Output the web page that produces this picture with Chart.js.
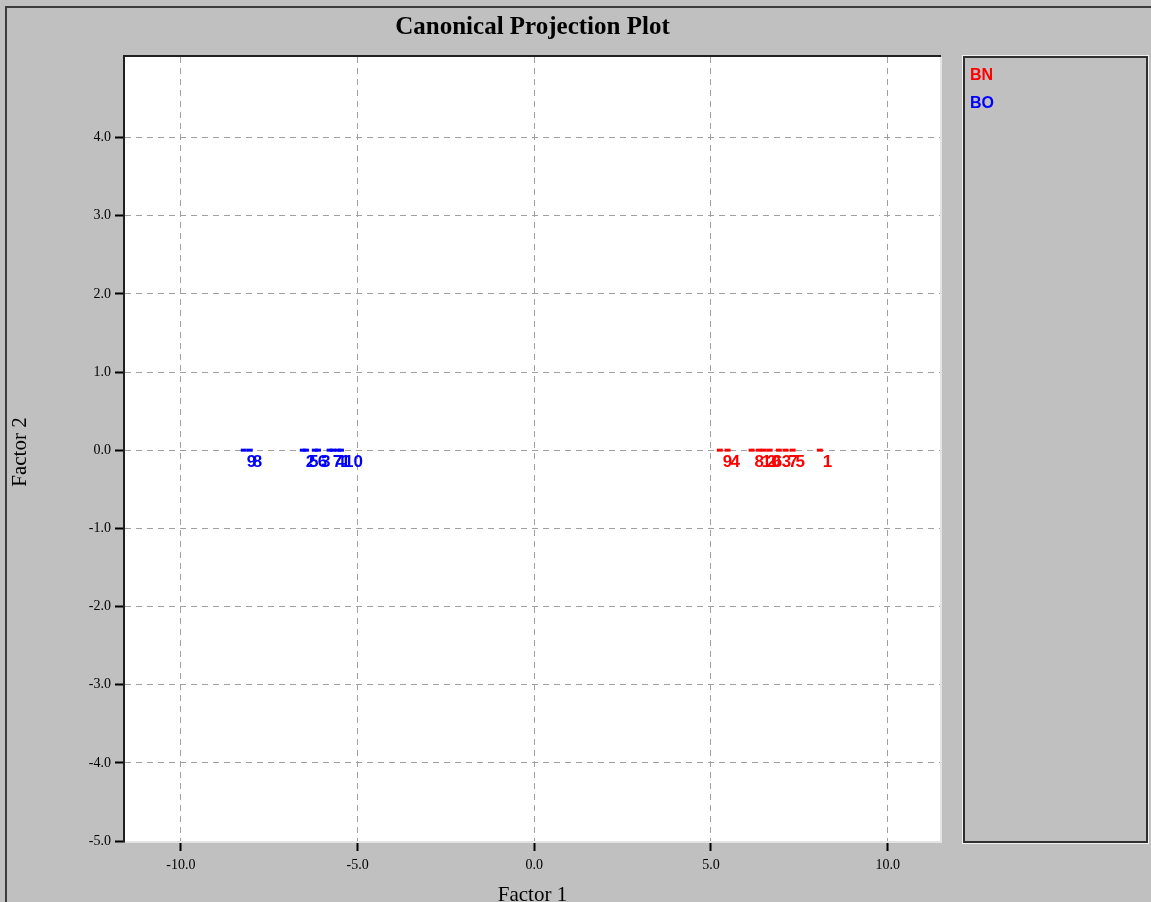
<!DOCTYPE html>
<html>
<head>
<meta charset="utf-8">
<title>Canonical Projection Plot</title>
<script src="https://cdn.jsdelivr.net/npm/chart.js@4.4.0/dist/chart.umd.min.js"></script>
<style>
  html, body { margin: 0; padding: 0; background: #c0c0c0; }
  #wrap { width: 1151px; height: 902px; position: relative; }
</style>
</head>
<body>
<div id="wrap"><canvas id="projChart"></canvas></div>
<script>
const groupNames = ["BN", "BO"];
const groupColors = ["#ff0000", "#0000ff"];

const bnIds = ["9", "4", "8", "10", "2", "6", "3", "7", "5", "1"];
const bnFactor1 = [5.25, 5.47, 6.15, 6.35, 6.49, 6.66, 6.92, 7.11, 7.31, 8.08];
const bnFactor2 = [0, 0, 0, 0, 0, 0, 0, 0, 0, 0];

const boIds = ["9", "8", "2", "5", "6", "3", "7", "4", "1", "10"];
const boFactor1 = [-8.22, -8.05, -6.55, -6.46, -6.21, -6.12, -5.79, -5.7, -5.56, -5.47];
const boFactor2 = [0, 0, 0, 0, 0, 0, 0, 0, 0, 0];

const xTicks = [-10, -5, 0, 5, 10];
const yTicks = [4, 3, 2, 1, 0, -1, -2, -3, -4, -5];

const pointIds = [bnIds, boIds];

function toPoints(xs, ys) {
  return xs.map((x, i) => ({ x: x, y: ys[i] }));
}

// grey window, white plot area
const framePlugin = {
  id: "frame",
  beforeDraw(chart) {
    const { ctx, chartArea: a, width, height } = chart;
    ctx.save();
    ctx.fillStyle = "#c0c0c0";
    ctx.fillRect(0, 0, width, height);
    ctx.strokeStyle = "#3c3c3c";
    ctx.lineWidth = 2;
    ctx.strokeRect(6, 7, width + 20, height + 20);
    ctx.fillStyle = "#ffffff";
    ctx.fillRect(a.left, a.top, a.right - a.left, a.bottom - a.top);
    ctx.restore();
  },
  afterDraw(chart) {
    const { ctx, chartArea: a } = chart;
    ctx.save();
    // sunken border of the plot
    ctx.lineWidth = 2;
    ctx.strokeStyle = "#e4e4e4";
    ctx.beginPath();
    ctx.moveTo(a.left, a.bottom + 1);
    ctx.lineTo(a.right + 1, a.bottom + 1);
    ctx.lineTo(a.right + 1, a.top);
    ctx.stroke();
    ctx.strokeStyle = "#202020";
    ctx.beginPath();
    ctx.moveTo(a.left - 1, a.bottom + 1);
    ctx.lineTo(a.left - 1, a.top - 1);
    ctx.lineTo(a.right + 1, a.top - 1);
    ctx.stroke();

    // legend box
    const lx = 964, ly = a.top, lw = 183, lh = a.bottom - a.top + 1;
    ctx.strokeStyle = "#f0f0f0";
    ctx.lineWidth = 1;
    ctx.strokeRect(lx - 1.5, ly - 1.5, lw + 3, lh + 3);
    ctx.strokeStyle = "#303030";
    ctx.lineWidth = 2;
    ctx.strokeRect(lx, ly, lw, lh);
    ctx.font = 'bold 16px "Liberation Sans", Arial, sans-serif';
    ctx.textAlign = "left";
    ctx.textBaseline = "middle";
    chart.data.datasets.forEach((ds, i) => {
      ctx.fillStyle = ds.borderColor;
      ctx.fillText(ds.label, 970, 76 + i * 28);
    });

    // title and axis titles
    const cx = (a.left + a.right) / 2;
    ctx.fillStyle = "#000000";
    ctx.textAlign = "center";
    ctx.font = 'bold 25px "Liberation Serif", "Times New Roman", serif';
    ctx.fillText("Canonical Projection Plot", cx, 28);
    ctx.font = '21px "Liberation Serif", "Times New Roman", serif';
    ctx.fillText("Factor 1", cx, 895);
    ctx.translate(20, 452);
    ctx.rotate(-Math.PI / 2);
    ctx.fillText("Factor 2", 0, 0);
    ctx.restore();
  }
};

// sample numbers next to each marker
const idLabelPlugin = {
  id: "idLabels",
  afterDatasetsDraw(chart) {
    const { ctx } = chart;
    ctx.save();
    ctx.font = 'bold 17px "Liberation Sans", Arial, sans-serif';
    ctx.textAlign = "left";
    ctx.textBaseline = "top";
    chart.data.datasets.forEach((ds, di) => {
      const meta = chart.getDatasetMeta(di);
      ctx.fillStyle = ds.borderColor;
      meta.data.forEach((pt, i) => {
        ctx.fillText(pointIds[di][i], pt.x + 3, pt.y + 4);
      });
    });
    ctx.restore();
  }
};

const tickFont = { family: '"Liberation Serif", "Times New Roman", serif', size: 14 };

const projCtx = document.getElementById("projChart").getContext("2d");
const projChart = new Chart(projCtx, {
  type: "scatter",
  data: {
    datasets: [
      {
        label: groupNames[0],
        data: toPoints(bnFactor1, bnFactor2),
        borderColor: groupColors[0],
        backgroundColor: groupColors[0],
      },
      {
        label: groupNames[1],
        data: toPoints(boFactor1, boFactor2),
        borderColor: groupColors[1],
        backgroundColor: groupColors[1],
      },
    ],
  },
  options: {
    responsive: true,
    maintainAspectRatio: false,
    animation: false,
    layout: {
      padding: { left: 0, top: 57, right: 211, bottom: 0 },
    },
    elements: {
      point: {
        pointStyle: "line",
        radius: 3,
        borderWidth: 3,
        hoverRadius: 3,
      },
    },
    scales: {
      x: {
        type: "linear",
        min: -11.58,
        max: 11.48,
        afterBuildTicks: (scale) => {
          scale.ticks = xTicks.map((v) => ({ value: v }));
        },
        afterFit: (scale) => {
          scale.height = 61;
        },
        ticks: {
          color: "#000000",
          font: tickFont,
          padding: 6,
          maxRotation: 0,
          callback: (v) => v.toFixed(1),
        },
        grid: {
          color: "#a0a0a0",
          tickColor: "#000000",
          tickLength: 10,
          tickWidth: 2,
        },
        border: { display: false, dash: [6, 5] },
      },
      y: {
        type: "linear",
        min: -5,
        max: 5.03,
        afterBuildTicks: (scale) => {
          scale.ticks = yTicks.map((v) => ({ value: v }));
        },
        afterFit: (scale) => {
          scale.width = 125;
        },
        ticks: {
          color: "#000000",
          font: tickFont,
          padding: 4,
          callback: (v) => v.toFixed(1),
        },
        grid: {
          color: "#a0a0a0",
          tickColor: "#000000",
          tickLength: 10,
          tickWidth: 2,
        },
        border: { display: false, dash: [6, 5] },
      },
    },
    plugins: {
      legend: { display: false },
      title: { display: false },
      tooltip: { enabled: false },
    },
  },
  plugins: [framePlugin, idLabelPlugin],
});
</script>
</body>
</html>
